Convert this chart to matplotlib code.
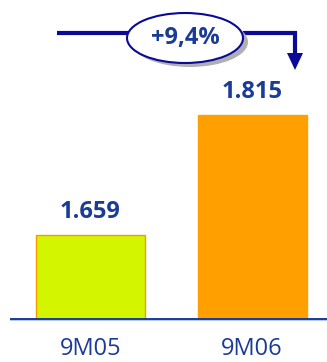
import matplotlib
matplotlib.use("Agg")
import matplotlib.pyplot as plt
from matplotlib.patches import Ellipse

# dados
periodos = ["9M05", "9M06"]
valores = [1659, 1815]
rotulos = ["1.659", "1.815"]
variacao = "+9,4%"

cor_barras = ["#d4f500", "#ffa000"]
cor_borda = ["#f59a00", "#ffa000"]
azul_texto = "#1a3c96"
azul_linha = "#0a0a96"

plt.rcParams["font.family"] = ["Open Sans", "DejaVu Sans"]

W, H = 327, 362
fig = plt.figure(figsize=(W / 100, H / 100), dpi=100)

# eixo das barras: base em y=320 px
ax = fig.add_axes([0, 42 / H, 1, 320 / H])
x = list(range(len(periodos)))
ax.bar(x, valores, width=0.675, bottom=0, color=cor_barras,
       edgecolor=cor_borda, linewidth=1, zorder=2)
ax.set_xlim(-0.560, 1.464)
ax.set_ylim(1548.5, 1964.5)
for s in ax.spines.values():
    s.set_visible(False)
ax.set_xticks([])
ax.set_yticks([])
ax.patch.set_alpha(0)

# rotulos de valor acima das barras
for xi, v, r in zip(x, valores, rotulos):
    ax.annotate(r, (xi, v), xytext=(0, 8), textcoords="offset points",
                ha="center", va="bottom", fontsize=17, fontweight="bold",
                color=azul_texto)

# linha de base
ax.plot([0.03, 1], [0, 0], transform=ax.transAxes, color="#b8c8e8",
        lw=1.5, zorder=1, clip_on=False, solid_capstyle="butt")
ax.plot([0.03, 1], [0.003, 0.003], transform=ax.transAxes, color=azul_texto,
        lw=1.4, zorder=3, clip_on=False, solid_capstyle="butt")

# categorias abaixo da base
for xi, p in zip(x, periodos):
    ax.annotate(p, (xi, 0), xycoords=("data", "axes fraction"),
                xytext=(0, -12), textcoords="offset points",
                ha="center", va="top", fontsize=17, color=azul_texto)

# camada de desenho em pixels para a seta de variacao
ov = fig.add_axes([0, 0, 1, 1])
ov.set_xlim(0, W)
ov.set_ylim(H, 0)
ov.axis("off")
ov.patch.set_alpha(0)

ov.plot([57, 130], [33, 33], color=azul_linha, lw=3, solid_capstyle="butt")
ov.plot([243, 295, 295], [33, 33, 54], color=azul_linha, lw=3,
        solid_capstyle="butt", solid_joinstyle="miter")
ov.fill([287, 303, 295], [53, 53, 70], color=azul_linha, lw=0)

ov.add_patch(Ellipse((190, 42), 116, 50, facecolor="#b0b0b0",
                     edgecolor="none", zorder=3))
ov.add_patch(Ellipse((185, 38), 116, 50, facecolor="white",
                     edgecolor=azul_linha, lw=1.5, zorder=4))
ov.text(185, 38, variacao, ha="center", va="center", fontsize=17,
        fontweight="bold", color=azul_texto, zorder=5)

fig.savefig("out.png", dpi=100)
